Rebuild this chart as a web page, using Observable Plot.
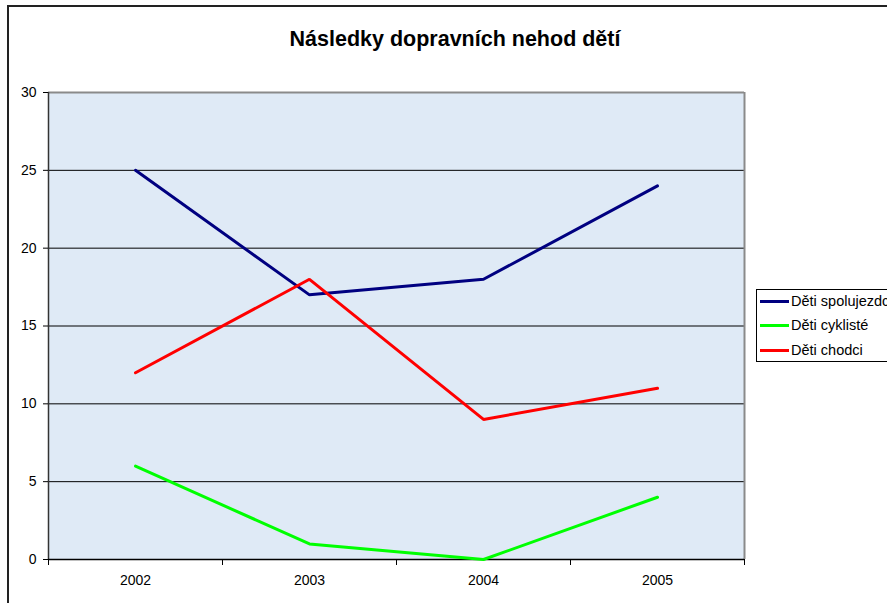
<!DOCTYPE html>
<html>
<head>
<meta charset="utf-8">
<script src="https://cdn.jsdelivr.net/npm/d3@7"></script>
<script src="https://cdn.jsdelivr.net/npm/@observablehq/plot@0.6"></script>
<style>
  html, body { margin: 0; padding: 0; background: #fff; }
  #wrap { position: relative; width: 887px; height: 603px; overflow: hidden; font-family: "Liberation Sans", Arial, sans-serif; }
  #border { position: absolute; left: 7px; top: 5px; width: 900px; height: 620px; border-left: 2px solid #222; border-top: 2px solid #222; box-sizing: border-box; }
  #title { position: absolute; top: 27px; left: 205px; width: 500px; text-align: center; font-weight: bold; font-size: 21.5px; color: #000; white-space: nowrap; }
  #legend { position: absolute; left: 756px; top: 289px; width: 160px; height: 73px; border: 1px solid #000; background: #fff; box-sizing: border-box; }
  .row { position: absolute; left: 3px; height: 16px; display: flex; align-items: center; font-size: 14.5px; white-space: nowrap; color: #000; }
  .sw { width: 29px; height: 3px; margin-right: 2px; }
  #chart { position: absolute; left: 0; top: 0; }
  #chart svg g[aria-label="y-axis tick label"] text,
  #chart svg g[aria-label="x-axis tick label"] text { font-size: 14px; }
</style>
</head>
<body>
<div id="wrap">
  <div id="border"></div>
  <div id="chart"></div>
  <div id="title"></div>
  <div id="legend"></div>
</div>
<script>
const title = "Následky dopravních nehod dětí";
const years = [2002, 2003, 2004, 2005];
const seriesNames = ["Děti spolujezdci", "Děti cyklisté", "Děti chodci"];
const spolujezdci = [25, 17, 18, 24];
const cykliste = [6, 1, 0, 4];
const chodci = [12, 18, 9, 11];
const seriesColors = ["#000080", "#00ff00", "#ff0000"];
const yTicks = [0, 5, 10, 15, 20, 25, 30];

const seriesValues = [spolujezdci, cykliste, chodci];
const rows = seriesNames.flatMap((name, s) =>
  years.map((yr, i) => ({ series: name, year: yr, value: seriesValues[s][i] })));
const bounds = years.map(y => y - 0.5).concat([years[years.length - 1] + 0.5]);
const x0 = bounds[0], x1 = bounds[bounds.length - 1];

const chart = Plot.plot({
  width: 887,
  height: 603,
  marginLeft: 48,
  marginRight: 143,
  marginTop: 92,
  marginBottom: 44,
  x: { type: "linear", domain: [x0, x1] },
  y: { domain: [yTicks[0], yTicks[yTicks.length - 1]] },
  style: { fontFamily: "'Liberation Sans', Arial, sans-serif", fontSize: "14px", color: "#000", background: "transparent" },
  marks: [
    Plot.frame({ fill: "#dfeaf6", stroke: null }),
    Plot.ruleY(yTicks.slice(1, -1), { stroke: "#000", strokeWidth: 1 }),
    Plot.ruleY([yTicks[yTicks.length - 1]], { stroke: "#8a8a8a", strokeWidth: 2 }),
    Plot.ruleX([x1], { stroke: "#8a8a8a", strokeWidth: 2 }),
    Plot.ruleX([x0], { stroke: "#333", strokeWidth: 1.5 }),
    Plot.ruleY([yTicks[0]], { stroke: "#000", strokeWidth: 1.5 }),
    Plot.line(rows, { x: "year", y: "value", z: "series", stroke: "series", strokeWidth: 3, strokeLinejoin: "miter" }),
    Plot.axisY(yTicks, { tickSize: 5, tickPadding: 7, label: null, fontSize: 14 }),
    Plot.axisX(bounds, { tickSize: 6, tickFormat: () => "", label: null }),
    Plot.axisX(years, { tickSize: 0, tickPadding: 16, tickFormat: d => String(d), label: null, fontSize: 14 })
  ],
  color: { domain: seriesNames, range: seriesColors }
});
document.getElementById("chart").appendChild(chart);
document.getElementById("title").textContent = title;

const legend = document.getElementById("legend");
const rowTops = [3, 27, 52];
seriesNames.forEach((name, i) => {
  const r = document.createElement("div");
  r.className = "row";
  r.style.top = rowTops[i] + "px";
  const sw = document.createElement("div");
  sw.className = "sw";
  sw.style.background = seriesColors[i];
  const t = document.createElement("span");
  t.textContent = name;
  r.appendChild(sw);
  r.appendChild(t);
  legend.appendChild(r);
});
</script>
</body>
</html>
